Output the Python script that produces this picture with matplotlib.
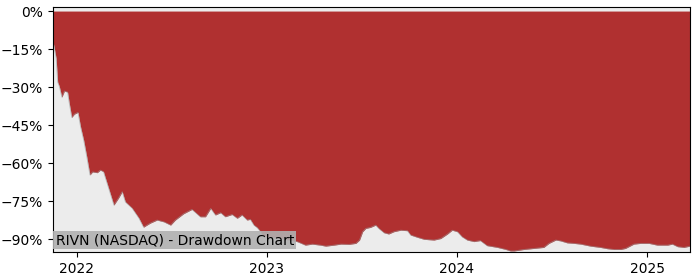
import matplotlib
matplotlib.use("Agg")
import matplotlib.pyplot as plt
import matplotlib.dates as mdates
import pandas as pd
import numpy as np

dates = ["2021-11-16", "2021-11-18", "2021-11-22", "2021-11-25", "2021-11-28", "2021-12-03",
         "2021-12-08", "2021-12-14", "2021-12-17", "2021-12-22", "2021-12-27", "2022-01-03",
         "2022-01-08", "2022-01-14", "2022-01-20", "2022-01-26", "2022-01-31", "2022-02-09",
         "2022-02-15", "2022-02-21", "2022-02-28", "2022-03-13", "2022-03-22", "2022-03-29",
         "2022-04-04", "2022-04-17", "2022-04-30", "2022-05-09", "2022-05-22", "2022-06-04",
         "2022-06-17", "2022-06-30", "2022-07-09", "2022-07-25", "2022-08-10", "2022-08-26",
         "2022-09-05", "2022-09-15", "2022-09-24", "2022-10-04", "2022-10-13", "2022-10-26",
         "2022-11-05", "2022-11-14", "2022-11-24", "2022-11-30", "2022-12-07", "2022-12-13",
         "2022-12-20", "2022-12-23", "2022-12-29", "2023-01-14", "2023-02-03", "2023-02-28",
         "2023-03-16", "2023-03-29", "2023-04-14", "2023-04-24", "2023-05-10", "2023-05-23",
         "2023-06-08", "2023-06-21", "2023-06-28", "2023-07-04", "2023-07-10", "2023-07-19",
         "2023-07-29", "2023-08-04", "2023-08-14", "2023-08-23", "2023-09-02", "2023-09-15",
         "2023-09-28", "2023-10-04", "2023-10-17", "2023-10-30", "2023-11-18", "2023-12-01",
         "2023-12-14", "2023-12-23", "2024-01-02", "2024-01-11", "2024-01-21", "2024-02-03",
         "2024-02-15", "2024-02-28", "2024-03-19", "2024-04-04", "2024-04-13", "2024-04-20",
         "2024-05-09", "2024-05-28", "2024-06-16", "2024-06-26", "2024-07-09", "2024-07-18",
         "2024-07-31", "2024-08-13", "2024-08-26", "2024-09-14", "2024-10-03", "2024-10-16",
         "2024-10-29", "2024-11-11", "2024-11-20", "2024-12-06", "2024-12-19", "2025-01-04",
         "2025-01-20", "2025-02-09", "2025-02-18", "2025-02-28", "2025-03-12", "2025-03-24"]

drawdown = [-12.0, -14.0, -18.6, -28.0, -29.6, -34.0,
            -31.6, -32.0, -36.0, -42.0, -40.7, -40.0,
            -45.7, -51.0, -57.6, -64.7, -63.5, -63.8,
            -62.8, -63.4, -68.0, -76.6, -73.8, -71.3,
            -75.3, -77.8, -81.7, -85.3, -83.7, -82.5,
            -83.2, -84.5, -82.5, -80.0, -78.3, -81.2,
            -81.2, -77.9, -80.5, -79.6, -81.2, -80.3,
            -81.8, -80.5, -82.5, -82.2, -84.5, -85.4,
            -87.1, -88.4, -89.1, -89.5, -90.0, -91.0,
            -92.4, -92.0, -92.4, -92.8, -92.4, -92.0,
            -92.1, -91.7, -90.4, -87.1, -85.8, -85.4,
            -84.5, -85.8, -87.5, -88.0, -87.1, -86.5,
            -86.7, -88.4, -89.3, -90.1, -90.4, -89.8,
            -88.0, -86.5, -87.1, -89.1, -90.4, -91.0,
            -90.6, -92.6, -93.3, -94.1, -94.7, -94.7,
            -94.1, -93.7, -93.3, -91.7, -90.4, -90.7,
            -91.5, -91.7, -92.0, -92.8, -93.3, -93.8,
            -94.1, -94.1, -93.7, -92.0, -91.7, -91.7,
            -92.4, -92.4, -92.0, -93.0, -93.3, -92.8]

ytick_values = [0, -15, -30, -45, -60, -75, -90]
ytick_labels = ["0%", "\u221215%", "\u221230%", "\u221245%", "\u221260%", "\u221275%", "\u221290%"]
title_text = "RIVN (NASDAQ) - Drawdown Chart"

x = pd.to_datetime(dates)
y = np.array(drawdown)

fig = plt.figure(figsize=(7, 2.8), dpi=100)
ax = fig.add_axes([53/700, 1-252/280, 637/700, 245/280])
ax.set_facecolor("#ececec")
ax.fill_between(x, y, 0, color="#b03030", linewidth=0)
ax.plot(x, y, color="#9a9a9a", linewidth=0.6, alpha=0.6)
ax.set_xlim(x[0], x[-1])
ax.set_ylim(-95.1, 1.6)
ax.set_yticks(ytick_values)
ax.set_yticklabels(ytick_labels)
ax.xaxis.set_major_locator(mdates.YearLocator())
ax.xaxis.set_major_formatter(mdates.DateFormatter("%Y"))
ax.tick_params(labelsize=10)
ax.text(0.004, 0.02, title_text, transform=ax.transAxes, fontsize=10,
        ha="left", va="bottom",
        bbox=dict(boxstyle="square,pad=0.15", facecolor="#b0b0b0", edgecolor="none", alpha=0.9))
fig.savefig("out.png", dpi=100)
